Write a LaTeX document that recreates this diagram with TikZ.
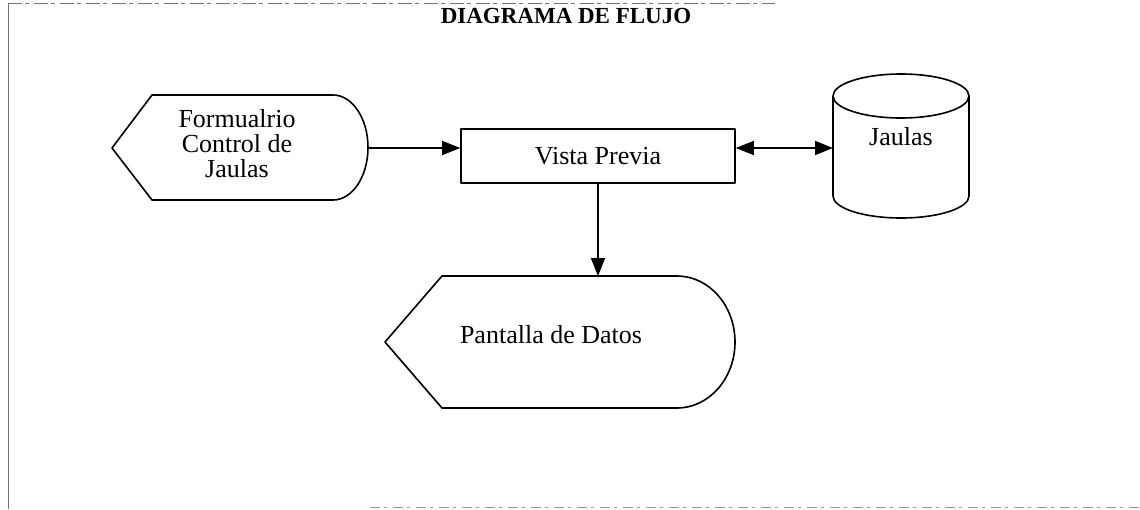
\documentclass[tikz,border=0pt]{standalone}
\usepackage{fontspec}
\setmainfont{Liberation Serif}
\usetikzlibrary{arrows.meta}
\begin{document}
\begin{tikzpicture}[x=1pt,y=-1pt,
  shp/.style={draw=black, line width=1.6pt, line join=round},
  lbl/.style={inner sep=0pt, font=\fontsize{26}{25}\selectfont, align=center},
  arr/.style={draw=black, line width=1.6pt, -{Triangle[length=18pt,width=14pt]}},
  arrb/.style={draw=black, line width=1.6pt, {Triangle[length=18pt,width=14pt]}-{Triangle[length=18pt,width=14pt]}},
  frame/.style={draw=black!55, line width=1pt}]
\useasboundingbox (0,0) rectangle (1140,509);
% frame remnants
\draw[frame, dash pattern=on 14pt off 3pt on 4pt off 5pt] (8,3) -- (775,3);
\draw[frame] (8,3) -- (8,509);
\draw[frame, black!40, dash pattern=on 10pt off 4pt on 3pt off 6pt] (370,507) -- (1140,507);
% title
\node[anchor=base, inner sep=0pt, font=\bfseries\fontsize{23}{23}\selectfont] (title) at (566,23) {DIAGRAMA DE FLUJO};
% Formulario display shape
\draw[shp] (152,95) -- (333,95) arc[start angle=90, end angle=-90, x radius=35pt, y radius=52.5pt] -- (152,200) -- (112,148) -- cycle;
\coordinate (form-e) at (368,148);
\node[lbl] (form) at (237,144) {Formualrio\\Control de\\Jaulas};
% Vista Previa
\node[shp, rectangle, minimum width=274pt, minimum height=54pt, inner sep=0pt, font=\fontsize{26}{25}\selectfont] (vp) at (598,156) {Vista Previa};
% Cylinder
\draw[shp] (833,96) -- (833,196) arc[start angle=180, end angle=360, x radius=68pt, y radius=22pt] -- (969,96);
\draw[shp] (901,96) ellipse[x radius=68pt, y radius=22pt];
\coordinate (cyl-w) at (833,148);
\node[lbl] (cyl) at (901,137) {Jaulas};
% Pantalla display shape
\draw[shp] (442,276) -- (677,276) arc[start angle=90, end angle=-90, x radius=58pt, y radius=66pt] -- (442,408) -- (385,342) -- cycle;
\coordinate (pant-n) at (598,276);
\node[lbl] (pant) at (551,335) {Pantalla de Datos};
% connectors
\draw[arr] (form-e) -- (form-e -| vp.west);
\draw[arrb] (cyl-w -| vp.east) -- (cyl-w);
\draw[arr] (vp.south) -- (pant-n);
\end{tikzpicture}
\end{document}
